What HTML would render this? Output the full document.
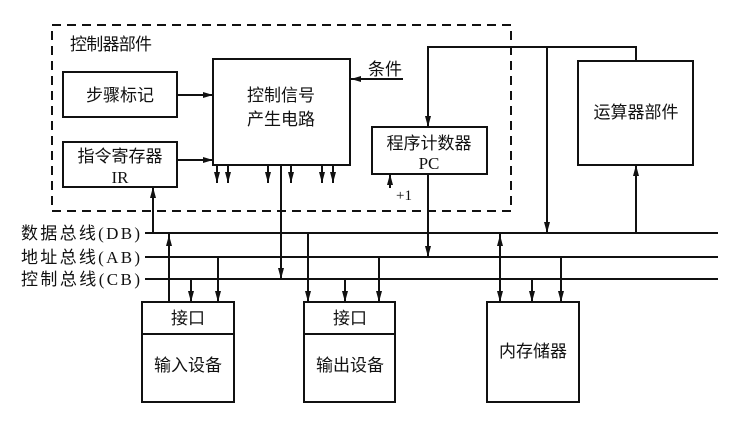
<!DOCTYPE html>
<html><head><meta charset="utf-8"><style>
html,body{margin:0;padding:0;background:#fff;}
svg{display:block;}
text{font-family:"Liberation Serif","Noto Sans CJK SC",serif;fill:#111;}
</style></head><body>
<svg width="748" height="423" viewBox="0 0 748 423" xmlns="http://www.w3.org/2000/svg">
<defs>
<marker id="a" markerWidth="8" markerHeight="10" refX="4" refY="9" orient="auto" markerUnits="userSpaceOnUse" viewBox="0 0 8 10">
<path d="M0,0 L4,10 L8,0 Z" fill="#111" transform="rotate(0)"/>
</marker>
</defs>
<g stroke="#111" stroke-width="2" fill="none">
<rect x="52" y="25" width="459" height="186" stroke-dasharray="9,6"/>
<rect x="63" y="72" width="114" height="45"/>
<rect x="63" y="142" width="114" height="45"/>
<rect x="213" y="59" width="137" height="106"/>
<rect x="372" y="127" width="115" height="47"/>
<rect x="578" y="61" width="115" height="104"/>
<rect x="142" y="302" width="92" height="100"/>
<line x1="142" y1="334" x2="234" y2="334"/>
<rect x="304" y="302" width="91" height="100"/>
<line x1="304" y1="334" x2="395" y2="334"/>
<rect x="487" y="302" width="92" height="100"/>
<!-- buses -->
<line x1="145" y1="233" x2="718" y2="233"/>
<line x1="145" y1="257" x2="718" y2="257"/>
<line x1="145" y1="279" x2="718" y2="279"/>
<!-- connectors -->
<line x1="177" y1="95" x2="213" y2="95"/>
<line x1="177" y1="160" x2="213" y2="160"/>
<line x1="403" y1="79" x2="351" y2="79"/>
<line x1="281" y1="165" x2="281" y2="279"/>
<line x1="153" y1="233" x2="153" y2="187"/>
<polyline points="428,127 428,47 636,47 636,61"/>
<line x1="547" y1="47" x2="547" y2="233"/>
<line x1="636" y1="233" x2="636" y2="165"/>
<line x1="428" y1="174" x2="428" y2="257"/>
<line x1="390" y1="188" x2="390" y2="174"/>
<line x1="169" y1="302" x2="169" y2="233"/>
<line x1="191" y1="279" x2="191" y2="302"/>
<line x1="218" y1="257" x2="218" y2="302"/>
<line x1="308" y1="233" x2="308" y2="302"/>
<line x1="345" y1="279" x2="345" y2="302"/>
<line x1="379" y1="257" x2="379" y2="302"/>
<line x1="500" y1="233" x2="500" y2="302"/>
<line x1="532" y1="279" x2="532" y2="302"/>
<line x1="561" y1="257" x2="561" y2="302"/>
<line x1="217" y1="165" x2="217" y2="183"/>
<line x1="228" y1="165" x2="228" y2="183"/>
<line x1="268" y1="165" x2="268" y2="183"/>
<line x1="291" y1="165" x2="291" y2="183"/>
<line x1="322" y1="165" x2="322" y2="183"/>
<line x1="333" y1="165" x2="333" y2="183"/>
</g>
<g fill="#111">
<!-- right arrows -->
<path d="M213,95 l-10,-3 v6z"/><path d="M213,160 l-10,-3 v6z"/>
<path d="M351,79 l10,-3 v6z"/>
<!-- down arrows -->
<path d="M281,279 l-3,-11 h6z"/>
<path d="M428,127 l-3,-11 h6z"/>
<path d="M547,233 l-3,-11 h6z"/>
<path d="M428,257 l-3,-11 h6z"/>
<path d="M191,302 l-3,-11 h6z"/><path d="M218,302 l-3,-11 h6z"/>
<path d="M308,302 l-3,-11 h6z"/><path d="M345,302 l-3,-11 h6z"/><path d="M379,302 l-3,-11 h6z"/>
<path d="M500,302 l-3,-11 h6z"/><path d="M532,302 l-3,-11 h6z"/><path d="M561,302 l-3,-11 h6z"/>
<path d="M217,183 l-3,-11 h6z"/><path d="M228,183 l-3,-11 h6z"/><path d="M268,183 l-3,-11 h6z"/>
<path d="M291,183 l-3,-11 h6z"/><path d="M322,183 l-3,-11 h6z"/><path d="M333,183 l-3,-11 h6z"/>
<!-- up arrows -->
<path d="M153,187 l-3,11 h6z"/>
<path d="M636,165 l-3,11 h6z"/>
<path d="M390,174 l-3,11 h6z"/>
<path d="M169,235 l-3,11 h6z"/>
<path d="M500,235 l-3,11 h6z"/>
</g>
<g font-size="17">
<text x="70" y="50" textLength="82">控制器部件</text>
<text x="120" y="101" text-anchor="middle">步骤标记</text>
<text x="120" y="162" text-anchor="middle">指令寄存器</text>
<text x="120" y="183" text-anchor="middle">IR</text>
<text x="281" y="101" text-anchor="middle">控制信号</text>
<text x="281" y="125" text-anchor="middle">产生电路</text>
<text x="368" y="75">条件</text>
<text x="429" y="149" text-anchor="middle">程序计数器</text>
<text x="429" y="169" text-anchor="middle">PC</text>
<text x="396" y="200" font-size="15">+1</text>
<text x="636" y="118" text-anchor="middle">运算器部件</text>
<text x="188" y="324" text-anchor="middle">接口</text>
<text x="188" y="371" text-anchor="middle">输入设备</text>
<text x="350" y="324" text-anchor="middle">接口</text>
<text x="350" y="371" text-anchor="middle">输出设备</text>
<text x="533" y="357" text-anchor="middle">内存储器</text>
<text x="21" y="239" textLength="119">数据总线(DB)</text>
<text x="21" y="263" textLength="119">地址总线(AB)</text>
<text x="21" y="285" textLength="119">控制总线(CB)</text>
</g>
<line x1="368" y1="79" x2="403" y2="79" stroke="#111" stroke-width="1.5"/>
</svg>
</body></html>
